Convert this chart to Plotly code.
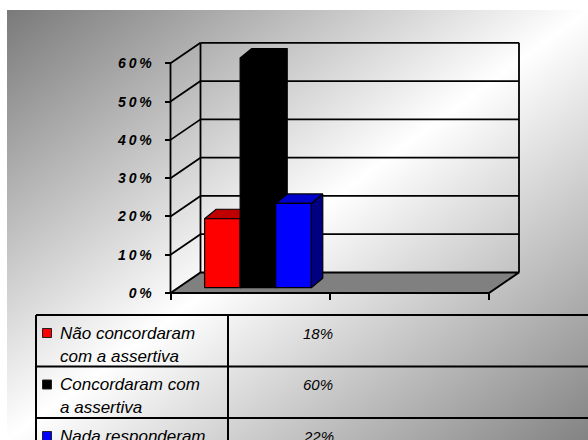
import base64
import plotly.graph_objects as go

# ---------------- data ----------------
categories = ["Não concordaram<br>com a assertiva",
              "Concordaram com<br>a assertiva",
              "Nada responderam"]
values = [18, 60, 22]
value_labels = ["18%", "60%", "22%"]
front_colors = ["#FF0000", "#000000", "#0000FF"]
top_colors = ["#C00000", "#000000", "#0000CC"]
side_colors = ["#800000", "#000000", "#000080"]
tick_values = [0, 10, 20, 30, 40, 50, 60]
tick_labels = ["0\u2009%", "1\u20090\u2009%", "2\u20090\u2009%", "3\u20090\u2009%",
               "4\u20090\u2009%", "5\u20090\u2009%", "6\u20090\u2009%"]

# ---------------- geometry (pixels -> axis units) ----------------
W, H = 588, 440
PX_X0, PX_PER_X = 170.5, 159.25      # x=0 at pixel 170.5, one category slot = 159.25 px
PX_Y0, PX_PER_PCT = 293.0, 3.828     # 0% at pixel 293
N_SLOTS = 2
VMAX = 60

DX, DY = 30 / PX_PER_X, 20.5 / PX_PER_PCT          # floor depth vector
OFF_F = 0.26                                          # bar front position in depth
BDX, BDY = 11.5 / PX_PER_X, 9.5 / PX_PER_PCT          # bar depth
GROUP_W = 0.67
BAR_W = GROUP_W / len(values)

fig = go.Figure()

def poly(xs, ys, fill, lw=1.2, lc="#000000"):
    fig.add_trace(go.Scatter(x=xs + [xs[0]], y=ys + [ys[0]], mode="lines",
                             fill="toself", fillcolor=fill,
                             line=dict(color=lc, width=lw),
                             hoverinfo="skip", showlegend=False))

def line(xs, ys, lw=1.8):
    fig.add_trace(go.Scatter(x=xs, y=ys, mode="lines",
                             line=dict(color="#000000", width=lw),
                             hoverinfo="skip", showlegend=False))

# floor
poly([0, N_SLOTS, N_SLOTS + DX, DX], [0, 0, DY, DY], "#808080", lw=2)
# back wall
line([DX, DX], [DY, VMAX + DY])
line([N_SLOTS + DX, N_SLOTS + DX], [DY, VMAX + DY])
for v in tick_values[1:]:
    line([DX, N_SLOTS + DX], [v + DY, v + DY])
# left wall
line([0, 0], [0, VMAX])
for v in tick_values[1:]:
    line([0, DX], [v, v + DY])

# bars
ox, oy = OFF_F * DX, OFF_F * DY
start = 0.5 - GROUP_W / 2
for i, v in enumerate(values):
    x0 = start + i * BAR_W + ox
    x1 = x0 + BAR_W
    y0 = oy
    y1 = v + oy
    poly([x1, x1 + BDX, x1 + BDX, x1], [y0, y0 + BDY, y1 + BDY, y1], side_colors[i])
    poly([x0, x1, x1 + BDX, x0 + BDX], [y1, y1, y1 + BDY, y1 + BDY], top_colors[i])
    poly([x0, x1, x1, x0], [y0, y0, y1, y1], front_colors[i])

# ---------------- background gradient ----------------
BG_X, BG_Y = 7, 10
bw, bh = W - BG_X, H - BG_Y
svg = (f'<svg xmlns="http://www.w3.org/2000/svg" width="{bw}" height="{bh}" '
       f'viewBox="0 0 {bw} {bh}" preserveAspectRatio="none">'
       '<defs><linearGradient id="g" x1="0" y1="0" x2="1" y2="1">'
       '<stop offset="0" stop-color="#7a7a7a"/>'
       '<stop offset="0.5" stop-color="#ffffff"/>'
       '<stop offset="1" stop-color="#838383"/>'
       '</linearGradient></defs>'
       f'<rect width="{bw}" height="{bh}" fill="url(#g)"/></svg>')
src = "data:image/svg+xml;base64," + base64.b64encode(svg.encode()).decode()

def px(x):
    return x / W

def py(y):
    return 1 - y / H

shapes = []
annotations = []

# ---------------- data table ----------------
T_LEFT, T_COL, T_RIGHT = 36, 228, W + 5
T_TOP, ROW_H = 315, 51.5
n_rows = len(categories)
for r in range(n_rows + 1):
    yy = T_TOP + r * ROW_H
    shapes.append(dict(type="line", xref="paper", yref="paper",
                       x0=px(T_LEFT), x1=px(T_RIGHT), y0=py(yy), y1=py(yy),
                       line=dict(color="#000000", width=2)))
for xx in (T_LEFT, T_COL):
    shapes.append(dict(type="line", xref="paper", yref="paper",
                       x0=px(xx), x1=px(xx), y0=py(T_TOP), y1=py(T_TOP + n_rows * ROW_H),
                       line=dict(color="#000000", width=2)))

txt_font = dict(family="Liberation Sans, Arial, sans-serif", size=17, color="#000000",
                style="italic")
for r, (cat, val) in enumerate(zip(categories, value_labels)):
    top = T_TOP + r * ROW_H
    yc = top + 18
    shapes.append(dict(type="rect", xref="paper", yref="paper",
                       x0=px(42.5), x1=px(51.5), y0=py(yc - 4.5), y1=py(yc + 4.5),
                       fillcolor=front_colors[r], line=dict(color="#202020", width=1)))
    for k, ln in enumerate(cat.split("<br>")):
        annotations.append(dict(xref="paper", yref="paper", x=px(58), y=py(yc + k * 23),
                                text=ln, showarrow=False, xanchor="left", yanchor="middle",
                                font=txt_font))
    annotations.append(dict(xref="paper", yref="paper", x=px(318), y=py(yc),
                            text=val, showarrow=False, xanchor="center", yanchor="middle",
                            font=dict(family="Liberation Sans, Arial, sans-serif", size=15,
                                      color="#000000", style="italic")))

fig.update_layout(
    width=W, height=H,
    margin=dict(l=0, r=0, t=0, b=0, pad=0),
    paper_bgcolor="#ffffff",
    plot_bgcolor="rgba(0,0,0,0)",
    showlegend=False,
    images=[dict(source=src, xref="paper", yref="paper", x=px(BG_X), y=py(BG_Y),
                 sizex=bw / W, sizey=bh / H, xanchor="left", yanchor="top",
                 sizing="stretch", layer="below")],
    shapes=shapes,
    annotations=annotations,
    xaxis=dict(range=[-PX_X0 / PX_PER_X, (W - PX_X0) / PX_PER_X],
               anchor="free", position=(H - PX_Y0) / H,
               tickvals=list(range(N_SLOTS + 1)), ticks="outside", ticklen=6,
               tickwidth=2, tickcolor="#000000", showticklabels=False,
               showgrid=False, zeroline=False, showline=False, fixedrange=True),
    yaxis=dict(range=[-(H - PX_Y0) / PX_PER_PCT, PX_Y0 / PX_PER_PCT],
               anchor="free", position=PX_X0 / W,
               tickvals=tick_values, ticktext=tick_labels,
               ticks="outside", ticklen=6, tickwidth=2, tickcolor="#000000",
               ticklabelstandoff=10,
               tickfont=dict(family="Liberation Sans, Arial, sans-serif", size=14,
                             color="#000000", weight="bold", style="italic"),
               showgrid=False, zeroline=False, showline=False, fixedrange=True),
)

fig.write_html("out.html")
